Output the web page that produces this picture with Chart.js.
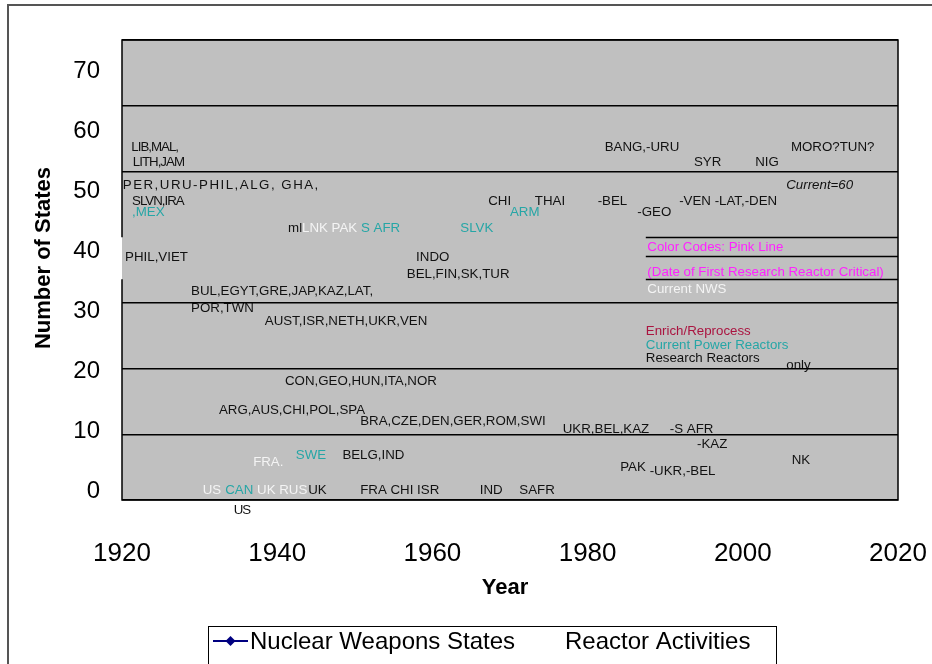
<!DOCTYPE html>
<html>
<head>
<meta charset="utf-8">
<script src="https://cdn.jsdelivr.net/npm/chart.js@4"></script>
<style>
  html, body { margin: 0; padding: 0; background: #fff; }
  #wrap { width: 932px; height: 664px; }
</style>
</head>
<body>
<div id="wrap"><canvas id="chart" width="932" height="664"></canvas></div>
<script>
// axis ranges and ticks
const yearTicks = [1920, 1940, 1960, 1980, 2000, 2020];
const stateTicks = [0, 10, 20, 30, 40, 50, 60, 70];

// Nuclear Weapons States series (no points shown in the picture)
const nwsYears = [];
const nwsCounts = [];

// Reactor activity notes: text, year, number of states
const noteTexts = [
    'LIB,MAL,', 'LITH,JAM', 'PER,URU-PHIL,ALG, GHA,', 'SLVN,IRA', ',MEX',
    'ml', 'LNK PAK', 'S AFR', 'SLVK', 'PHIL,VIET', 'INDO', 'BEL,FIN,SK,TUR',
    'BUL,EGYT,GRE,JAP,KAZ,LAT,', 'POR,TWN', 'AUST,ISR,NETH,UKR,VEN',
    'CON,GEO,HUN,ITA,NOR', 'ARG,AUS,CHI,POL,SPA', 'BRA,CZE,DEN,GER,ROM,SWI',
    'UKR,BEL,KAZ', '-S AFR', '-KAZ', 'FRA.', 'SWE', 'BELG,IND', 'NK', 'PAK', '-UKR,-BEL',
    'US', 'CAN', 'UK RUS', 'UK', 'FRA CHI ISR', 'IND', 'SAFR', 'US',
    'CHI', 'ARM', 'THAI', '-BEL', '-GEO', '-VEN -LAT,-DEN', 'Current=60',
    'BANG,-URU', 'SYR', 'NIG', 'MORO?TUN?',
    'Color Codes: Pink Line', '(Date of First Research Reactor Critical)', 'Current NWS',
    'Enrich/Reprocess', 'Current Power Reactors', 'Research Reactors', 'only'
];
const noteYears = [
    1921.2, 1921.4, 1920.1, 1921.3, 1921.3,
    1941.4, 1943.2, 1950.8, 1963.6, 1920.4, 1957.9, 1956.7,
    1928.9, 1928.9, 1938.4,
    1941.0, 1932.5, 1950.7,
    1976.8, 1990.6, 1994.1, 1936.9, 1942.4, 1948.4, 2006.3, 1984.2, 1988.0,
    1930.4, 1933.3, 1937.4, 1944.0, 1950.7, 1966.1, 1971.2, 1934.4,
    1967.2, 1970.0, 1973.2, 1981.3, 1986.4, 1991.8, 2005.6,
    1982.2, 1993.7, 2001.6, 2006.2,
    1987.7, 1987.7, 1987.7,
    1987.5, 1987.5, 1987.5, 2005.6
];
const noteCounts = [
    53.6, 51.4, 47.9, 45.5, 43.8,
    41.4, 41.4, 41.4, 41.4, 37.0, 37.0, 34.4,
    31.8, 29.1, 27.2,
    18.0, 13.7, 12.0,
    10.8, 10.8, 8.5, 5.8, 6.8, 6.8, 6.1, 5.0, 4.3,
    1.4, 1.4, 1.4, 1.4, 1.4, 1.4, 1.4, -1.5,
    45.5, 43.8, 45.5, 45.5, 43.8, 45.5, 47.9,
    53.6, 51.4, 51.4, 53.6,
    38.5, 34.7, 32.1,
    25.6, 23.6, 21.6, 20.5
];

// text box lines on the right (number of states) and where they start
const boxLineCounts = [40, 37.1, 33.6];
const boxLineStart = 1987.5;

// colour code per note: k black, t power reactors, w NWS, p pink, r enrich
const noteColorCodes = [
    'k', 'k', 'k', 'k', 't',
    'k', 'w', 't', 't', 'k', 'k', 'k',
    'k', 'k', 'k',
    'k', 'k', 'k',
    'k', 'k', 'k', 'w', 't', 'k', 'k', 'k', 'k',
    'w', 't', 'w', 'k', 'k', 'k', 'k', 'k',
    'k', 't', 'k', 'k', 'k', 'k', 'k',
    'k', 'k', 'k', 'k',
    'p', 'p', 'w',
    'r', 't', 'k', 'k'
];
const colorMap = { k: '#111111', t: '#26a6a6', w: '#f4f4f4', p: '#ff22ff', r: '#aa1440' };
const condensed = ['LIB,MAL,', 'LITH,JAM', 'SLVN,IRA'];

const plotBg = {
    id: 'plotBg',
    beforeDraw(chart) {
        const { ctx, chartArea: a } = chart;
        ctx.save();
        ctx.fillStyle = '#ffffff';
        ctx.fillRect(0, 0, chart.width, chart.height);
        // outer frame
        ctx.strokeStyle = '#555555';
        ctx.lineWidth = 2;
        ctx.beginPath();
        ctx.moveTo(8, 670);
        ctx.lineTo(8, 5);
        ctx.lineTo(940, 5);
        ctx.stroke();
        ctx.fillStyle = '#c0c0c0';
        ctx.fillRect(a.left, a.top, a.right - a.left, a.bottom - a.top);

        // notes
        const meta = chart.getDatasetMeta(1);
        ctx.textBaseline = 'middle';
        ctx.textAlign = 'left';
        meta.data.forEach((pt, i) => {
            const txt = noteTexts[i];
            let font = '13.3px "Liberation Sans", Arial, sans-serif';
            let spacing = '0px';
            if (txt === 'Current=60') font = 'italic ' + font;
            if (condensed.includes(txt) || (txt === 'US' && noteCounts[i] < 0)) spacing = '-1px';
            if (txt.startsWith('PER,URU')) spacing = '1.5px';
            ctx.font = font;
            ctx.letterSpacing = spacing;
            ctx.fillStyle = colorMap[noteColorCodes[i]];
            ctx.fillText(txt, pt.x, pt.y);
        });
        ctx.letterSpacing = '0px';
        ctx.restore();
    },
    afterDraw(chart) {
        const { ctx, chartArea: a, scales } = chart;
        const ys = scales.y, xs = scales.x;
        ctx.save();
        ctx.strokeStyle = '#000000';
        ctx.lineWidth = 1.5;
        // plot frame, left edge has a gap behind the text box
        ctx.beginPath();
        ctx.moveTo(a.left, ys.getPixelForValue(40));
        ctx.lineTo(a.left, a.top);
        ctx.lineTo(a.right, a.top);
        ctx.lineTo(a.right, a.bottom);
        ctx.lineTo(a.left, a.bottom);
        ctx.lineTo(a.left, ys.getPixelForValue(33.6));
        ctx.stroke();
        // text box lines
        const x0 = xs.getPixelForValue(boxLineStart);
        boxLineCounts.forEach(v => {
            const py = Math.round(ys.getPixelForValue(v)) + 0.5;
            ctx.beginPath();
            ctx.moveTo(x0, py);
            ctx.lineTo(a.right, py);
            ctx.stroke();
        });

        // axis titles
        ctx.fillStyle = '#000000';
        ctx.font = 'bold 22px "Liberation Sans", Arial, sans-serif';
        ctx.textAlign = 'center';
        ctx.textBaseline = 'middle';
        ctx.fillText('Year', (a.left + a.right) / 2 - 5, 588);
        ctx.translate(44, 258);
        ctx.rotate(-Math.PI / 2);
        ctx.fillText('Number of States', 0, 0);
        ctx.restore();

        // legend box
        ctx.save();
        ctx.strokeStyle = '#000000';
        ctx.lineWidth = 1;
        ctx.strokeRect(208.5, 626.5, 568, 60);
        const ds = chart.data.datasets;
        // line + diamond marker
        ctx.strokeStyle = '#000080';
        ctx.fillStyle = '#000080';
        ctx.lineWidth = 2;
        ctx.beginPath();
        ctx.moveTo(213, 641);
        ctx.lineTo(248, 641);
        ctx.stroke();
        ctx.beginPath();
        ctx.moveTo(230.5, 636);
        ctx.lineTo(235.5, 641);
        ctx.lineTo(230.5, 646);
        ctx.lineTo(225.5, 641);
        ctx.closePath();
        ctx.fill();
        ctx.fillStyle = '#000000';
        ctx.font = '24px "Liberation Sans", Arial, sans-serif';
        ctx.textAlign = 'left';
        ctx.textBaseline = 'middle';
        ctx.fillText(ds[0].label, 250, 642);
        ctx.fillText(ds[1].label, 565, 642);
        ctx.restore();
    }
};

const tickFont = { family: '"Liberation Sans", Arial, sans-serif', size: 24 };

new Chart(document.getElementById('chart').getContext('2d'), {
    data: {
        datasets: [
            {
                type: 'line',
                label: 'Nuclear Weapons States',
                data: nwsYears.map((y, i) => ({ x: y, y: nwsCounts[i] })),
                borderColor: '#000080',
                backgroundColor: '#000080',
                pointStyle: 'rectRot',
                xAxisID: 'x',
                yAxisID: 'y'
            },
            {
                type: 'scatter',
                label: 'Reactor Activities',
                data: noteYears.map((y, i) => ({ x: y, y: noteCounts[i] })),
                pointRadius: 0,
                pointHoverRadius: 0,
                xAxisID: 'x',
                yAxisID: 'y'
            }
        ]
    },
    options: {
        responsive: false,
        animation: false,
        events: [],
        layout: { padding: { top: 40, right: 34, left: 0, bottom: 0 } },
        plugins: {
            legend: { display: false },
            tooltip: { enabled: false }
        },
        scales: {
            x: {
                type: 'linear',
                min: yearTicks[0],
                max: yearTicks[yearTicks.length - 1],
                afterBuildTicks: (s) => { s.ticks = yearTicks.map(v => ({ value: v })); },
                ticks: {
                    color: '#000000',
                    font: { family: tickFont.family, size: 26 },
                    padding: 38,
                    maxRotation: 0,
                    callback: (v) => String(v)
                },
                grid: { display: false, drawTicks: false },
                border: { display: false },
                afterFit: (s) => { s.height = 164; s.paddingLeft = 0; s.paddingRight = 0; }
            },
            y: {
                type: 'linear',
                position: 'left',
                min: 0,
                max: 70,
                afterBuildTicks: (s) => { s.ticks = stateTicks.map(v => ({ value: v })); },
                ticks: { display: false },
                grid: {
                    drawTicks: false,
                    lineWidth: 1.5,
                    color: (c) => (c.tick && c.tick.value === 40) ? 'rgba(0,0,0,0)' : '#000000'
                },
                border: { display: false },
                afterFit: (s) => { s.width = 0; s.paddingTop = 0; s.paddingBottom = 0; }
            },
            yLabels: {
                type: 'linear',
                position: 'left',
                min: -1.5,
                max: 75.2,
                afterBuildTicks: (s) => { s.ticks = stateTicks.map(v => ({ value: v })); },
                ticks: {
                    color: '#000000',
                    font: tickFont,
                    padding: 22,
                    callback: (v) => String(v)
                },
                grid: { display: false, drawTicks: false },
                border: { display: false },
                afterFit: (s) => { s.width = 122; s.paddingTop = 0; s.paddingBottom = 0; }
            }
        }
    },
    plugins: [plotBg]
});
</script>
</body>
</html>
